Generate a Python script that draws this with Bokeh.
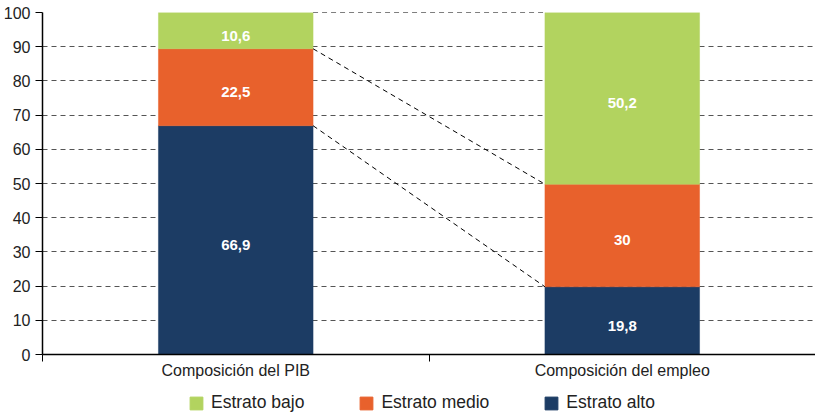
from bokeh.plotting import figure
from bokeh.layouts import column
from bokeh.models import (ColumnDataSource, FixedTicker, LinearAxis, Legend, LegendItem, Range1d)
from bokeh.core.properties import value
from bokeh.embed import file_html
from bokeh.resources import INLINE

categories = ["Composición del PIB", "Composición del empleo"]
series_names = ["Estrato alto", "Estrato medio", "Estrato bajo"]
alto = [66.9, 19.8]
medio = [22.5, 30.0]
bajo = [10.6, 50.2]
labels_alto = ["66,9", "19,8"]
labels_medio = ["22,5", "30"]
labels_bajo = ["10,6", "50,2"]
colors = ["#1c3c64", "#e8612c", "#b2d35f"]
y_ticks = list(range(0, 101, 10))

FONT = "Liberation Sans"
bar_w = 0.4
xc = [i + 0.5 for i in range(len(categories))]

p = figure(width=815, height=388, output_backend="svg", toolbar_location=None,
           x_range=Range1d(0, len(categories)), y_range=Range1d(0, 100),
           x_axis_type=None, min_border_left=40, min_border_right=0,
           min_border_top=12, min_border_bottom=34)
p.outline_line_color = None
p.background_fill_color = "white"

# y axis
p.yaxis.ticker = FixedTicker(ticks=y_ticks)
p.yaxis.axis_line_color = "black"
p.yaxis.axis_line_width = 1.5
p.yaxis.major_tick_line_color = "black"
p.yaxis.major_tick_in = 0
p.yaxis.major_tick_out = 7
p.yaxis.minor_tick_line_color = None
p.yaxis.major_label_text_font = FONT
p.yaxis.major_label_text_font_size = "16px"
p.yaxis.major_label_text_color = "#222222"
p.yaxis.major_label_standoff = 5

p.ygrid.ticker = FixedTicker(ticks=y_ticks[1:])
p.ygrid.grid_line_color = "#555555"
p.ygrid.grid_line_dash = "5 4"
p.ygrid.grid_line_width = 1
p.xgrid.grid_line_color = None

# x axis: labels at centers, ticks between categories
xa = LinearAxis(ticker=FixedTicker(ticks=xc, minor_ticks=list(range(len(categories) + 1))),
                major_label_overrides={c: n for c, n in zip(xc, categories)})
xa.axis_line_color = "black"
xa.axis_line_width = 1.5
xa.major_tick_line_color = None
xa.minor_tick_line_color = "black"
xa.minor_tick_in = 0
xa.minor_tick_out = 7
xa.major_label_text_font = FONT
xa.major_label_text_font_size = "16px"
xa.major_label_text_color = "#222222"
xa.major_label_standoff = 0
p.add_layout(xa, "below")

# stacked bars
vals = [alto, medio, bajo]
labs = [labels_alto, labels_medio, labels_bajo]
bottoms = [0.0] * len(categories)
for vs, lb, col in zip(vals, labs, colors):
    tops = [b + v for b, v in zip(bottoms, vs)]
    src = ColumnDataSource(dict(x=xc, bottom=bottoms, top=tops,
                                mid=[(b + t) / 2 for b, t in zip(bottoms, tops)], lab=lb))
    p.vbar(x="x", width=bar_w, bottom="bottom", top="top", source=src,
           fill_color=col, line_color=col, line_width=0.5)
    p.text(x="x", y="mid", text="lab", source=src, text_color="white",
           text_font=value(FONT), text_font_style="bold", text_font_size="15px",
           text_align="center", text_baseline="middle", y_offset=5)
    bottoms = tops

# connector lines between bars at segment boundaries
bounds1 = [alto[0], alto[0] + medio[0], alto[0] + medio[0] + bajo[0]]
bounds2 = [alto[1], alto[1] + medio[1], alto[1] + medio[1] + bajo[1]]
for b1, b2 in zip(bounds1, bounds2):
    p.line(x=[xc[0] + bar_w / 2, xc[1] - bar_w / 2], y=[b1, b2],
           line_color="black", line_dash="5 4", line_width=1)

# legend in its own strip below the chart (swatch glyphs sit outside the strip's visible range)
lg = figure(width=815, height=28, output_backend="svg", toolbar_location=None,
            x_range=Range1d(0, 1), y_range=Range1d(0, 1),
            x_axis_type=None, y_axis_type=None,
            min_border_left=0, min_border_right=0, min_border_top=0, min_border_bottom=0)
lg.outline_line_color = None
lg.xgrid.grid_line_color = None
lg.ygrid.grid_line_color = None
leg_renderers = []
for col in colors:
    leg_renderers.append(lg.vbar(x=[5], bottom=[5], top=[6], width=0.1,
                                 fill_color=col, line_color=col))
items = [LegendItem(label=n, renderers=[r]) for n, r in zip(series_names, leg_renderers)]
items = items[::-1]
legend = Legend(items=items, orientation="horizontal", location=(146, 3),
                label_text_font=FONT, label_text_font_size="17.5px", label_text_color="#222222",
                glyph_width=16, glyph_height=16, label_height=16, spacing=54, padding=0, margin=0,
                border_line_color=None, background_fill_alpha=0, label_standoff=7)
lg.add_layout(legend, "center")

layout = column(p, lg, spacing=0)
open("out.html", "w").write(file_html(layout, INLINE))
